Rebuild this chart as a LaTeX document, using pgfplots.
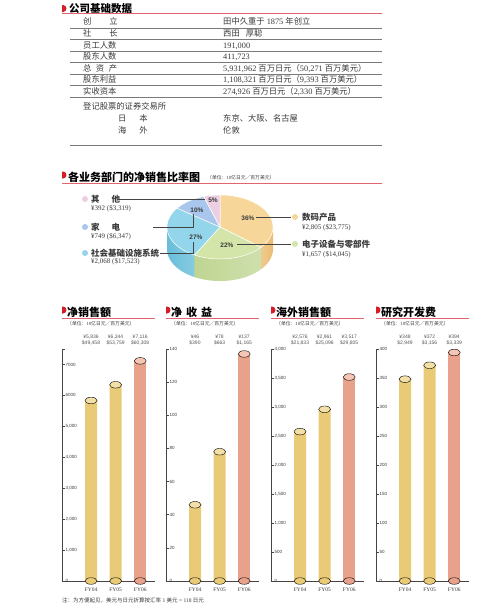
\documentclass[border=0pt]{standalone}
\usepackage{fontspec}
\setmainfont{Liberation Serif}
\newfontfamily\cjk{Noto Sans CJK SC}
\newfontfamily\sans{Liberation Sans}
\usepackage{pgfplots}
\pgfplotsset{compat=1.18}
\definecolor{redm}{HTML}{D51F26}
\definecolor{redl}{HTML}{E0656E}
\definecolor{grayl}{HTML}{7A7A7A}
\definecolor{txt}{HTML}{3A3A3A}
\definecolor{barY}{HTML}{E9CB77}
\definecolor{barYt}{HTML}{F3E0A8}
\definecolor{barS}{HTML}{E8A18B}
\definecolor{barSt}{HTML}{F5C6B4}
\definecolor{axc}{HTML}{4B4343}
\definecolor{orT}{HTML}{F6D699}
\definecolor{orS}{HTML}{EBBD72}
\definecolor{grT}{HTML}{D4E5A9}
\definecolor{grS}{HTML}{BFD592}
\definecolor{blT}{HTML}{93D5EA}
\definecolor{blS}{HTML}{69BEDA}
\definecolor{peT}{HTML}{A9C6EC}
\definecolor{pkT}{HTML}{EDCFE3}
\definecolor{lead}{HTML}{444444}
\newcommand\zh[1]{{\cjk #1}}
\newcommand\fs[1]{\fontsize{#1}{#1}\selectfont}
\newcommand\vals[7]{%
  \node at (#1+29,-337) {#2}; \node at (#1+29,-343) {#3};
  \node at (#1+53.6,-337) {#4}; \node at (#1+53.6,-343) {#5};
  \node at (#1+78.2,-337) {#6}; \node at (#1+78.2,-343) {#7};}
\newcommand\head[2]{%
  \fill[redm] (#1,-306.5) -- (#1+1,-306.5) arc[start angle=90,end angle=-90,radius=3.5] -- (#1,-313.5) -- cycle;
  \node[anchor=base west, inner sep=0] at (#1+5,-316) {\fs{11}\cjk\bfseries #2};
  \draw[redl, line width=1.2pt] (#1,-318.5) -- (#1+93,-318.5);
  \node[anchor=base west, inner sep=0, text=txt] at (#1+5,-325.8) {\fs{4.8}\zh{（单位：}10\zh{亿日元／百万美元）}};}
\pgfplotsset{barpanel/.style={
  scale only axis, width=93pt, height=232pt, anchor=south west,
  xmin=-1.18, xmax=2.6, ymin=0,
  axis x line*=bottom, axis y line*=left,
  axis line style={axc, line width=0.9pt},
  xtick={0,1,2}, xticklabels={FY04,FY05,FY06},
  xticklabel style={font=\fs{5.5}, txt, yshift=-3pt},
  x tick style={draw=none},
  y tick style={axc, line width=0.5pt},
  tick align=inside, major tick length=2.5pt,
  /pgf/number format/assume math mode=true,
  yticklabel style={anchor=west, font=\sans\fs{4.5}, txt, inner sep=0.5pt, xshift=3pt},
  clip=false,
}}
\begin{document}
\begin{tikzpicture}[x=1pt,y=1pt]
\path[use as bounding box, fill=white] (0,0) rectangle (500,-611);
% ---------------- table ----------------
\fill[redm] (62,-5) -- (63,-5) arc[start angle=90,end angle=-90,radius=3.5] -- (62,-12) -- cycle;
\node[anchor=base west, inner sep=0] at (69,-12) {\fs{10.5}\cjk\bfseries 公司基础数据};
\draw[redl, line width=0.9pt] (62,-13.5) -- (382,-13.5);
\foreach \y in {28,39.5,51,62.5,74,85.5,97,145.5} \draw[grayl, line width=1pt] (70,-\y) -- (382,-\y);
\begin{scope}[every node/.style={anchor=base west, inner sep=0, text=txt, font=\fs{8.3}}]
\node at (83,-24) {\zh{创\hspace{18pt}立}};
\node at (83,-36.75) {\zh{社\hspace{18pt}长}};
\node at (83,-48.25) {\zh{员工人数}};
\node at (83,-59.75) {\zh{股东人数}};
\node at (83,-71.25) {\zh{总\hspace{4.5pt}资\hspace{4.5pt}产}};
\node at (83,-82.75) {\zh{股东利益}};
\node at (83,-94.25) {\zh{实收资本}};
\node at (83,-109.5) {\zh{登记股票的证券交易所}};
\node at (118,-121.5) {\zh{日\hspace{13pt}本}};
\node at (118,-133.5) {\zh{海\hspace{13pt}外}};
\node at (223,-24) {\zh{田中久重于} 1875 \zh{年创立}};
\node at (223,-36.75) {\zh{西田\hspace{6pt}厚聪}};
\node at (223,-48.25) {191,000};
\node at (223,-59.75) {411,723};
\node at (223,-71.25) {5,931,962 \zh{百万日元（}50,271 \zh{百万美元）}};
\node at (223,-82.75) {1,108,321 \zh{百万日元（}9,393 \zh{百万美元）}};
\node at (223,-94.25) {274,926 \zh{百万日元（}2,330 \zh{百万美元）}};
\node at (223,-121.5) {\zh{东京、大阪、名古屋}};
\node at (223,-133.5) {\zh{伦敦}};
\end{scope}
% ---------------- pie section ----------------
\fill[redm] (62,-171.5) -- (63,-171.5) arc[start angle=90,end angle=-90,radius=3.5] -- (62,-178.5) -- cycle;
\node[anchor=base west, inner sep=0] at (68,-181) {\fs{11}\cjk\bfseries 各业务部门的净销售比率图};
\node[anchor=base west, inner sep=0, text=txt] at (207,-179.3) {\fs{4.8}\zh{（单位：}10\zh{亿日元／百万美元）}};
\draw[redl, line width=0.9pt] (62,-183.5) -- (382,-183.5);
\begin{axis}[at={(160pt,-287pt)}, anchor=south west, scale only axis, width=120pt, height=100pt,
  xmin=-60, xmax=60, ymin=-60, ymax=40, hide axis, clip=false]
% sides
\addplot[draw=none, left color=orS!80!white, right color=orS, domain=-39.6:0, samples=20] ({53*cos(x)},{32*sin(x)-22}) -- (axis cs:53,0) -- (axis cs:40.84,-20.40) -- cycle;
\addplot[draw=none, left color=grS, right color=grS!75!white, domain=-118.8:-39.6, samples=30] ({53*cos(x)},{32*sin(x)-22}) -- (axis cs:40.84,-20.40) -- (axis cs:-25.53,-28.04) -- cycle;
\addplot[draw=none, left color=blS, right color=blS!80!white, domain=-180:-118.8, samples=30] ({53*cos(x)},{32*sin(x)-22}) -- (axis cs:-25.53,-28.04) -- (axis cs:-53,0) -- cycle;
% tops: 36, 22, 27, 10, 5 percent, clockwise from 90 deg
\addplot[fill=orT, draw=white, line width=0.5pt, domain=-39.6:90, samples=40] ({53*cos(x)},{32*sin(x)}) -- (axis cs:0,0) -- cycle;
\addplot[fill=grT, draw=white, line width=0.5pt, domain=-118.8:-39.6, samples=30] ({53*cos(x)},{32*sin(x)}) -- (axis cs:0,0) -- cycle;
\addplot[fill=blT, draw=white, line width=0.5pt, domain=-216:-118.8, samples=30] ({53*cos(x)},{32*sin(x)}) -- (axis cs:0,0) -- cycle;
\addplot[fill=peT, draw=white, line width=0.5pt, domain=-252:-216, samples=15] ({53*cos(x)},{32*sin(x)}) -- (axis cs:0,0) -- cycle;
\addplot[fill=pkT, draw=white, line width=0.5pt, domain=-270:-252, samples=10] ({53*cos(x)},{32*sin(x)}) -- (axis cs:0,0) -- cycle;
\end{axis}
% leader lines
\draw[lead, line width=0.6pt] (118,-199) -- (205,-199);
\draw[lead, line width=0.6pt] (153,-227) -- (193,-227) -- (193,-214);
\draw[lead, line width=0.6pt] (160,-253) -- (193,-253) -- (193,-242);
\draw[lead, line width=0.6pt] (256,-217) -- (291,-217);
\draw[lead, line width=0.6pt] (237,-244) -- (291,-244);
\begin{scope}[every node/.style={inner sep=0, text=txt, font=\sans\bfseries\fs{6.5}}]
\node at (248,-218) {36\%};
\node at (227,-245) {22\%};
\node at (196,-237) {27\%};
\node at (197,-210) {10\%};
\node at (213,-200) {5\%};
\end{scope}
\fill[pkT] (85,-199) circle (3);
\fill[peT] (85,-227) circle (3);
\fill[blT] (85,-253) circle (3);
\fill[orT] (295,-217) circle (3);
\fill[grT] (295,-244) circle (3);
\begin{scope}[every node/.style={anchor=base west, inner sep=0, text=txt}]
\node at (91,-202) {\fs{8.5}\cjk\bfseries 其\hspace{12pt}他};
\node at (91,-210.5) {\fs{7}¥392 (\$3,319)};
\node at (91,-230) {\fs{8.5}\cjk\bfseries 家\hspace{12pt}电};
\node at (91,-238.5) {\fs{7}¥749 (\$6,347)};
\node at (91,-256) {\fs{8.5}\cjk\bfseries 社会基础设施系统};
\node at (91,-263) {\fs{7}¥2,068 (\$17,523)};
\node at (302,-220) {\fs{8.5}\cjk\bfseries 数码产品};
\node at (302,-229) {\fs{7}¥2,805 (\$23,775)};
\node at (302,-247) {\fs{8.5}\cjk\bfseries 电子设备与零部件};
\node at (302,-256) {\fs{7}¥1,657 (\$14,045)};
\end{scope}
% ---------------- bar panels ----------------
\head{62}{净销售额}
\head{166}{净\hspace{4pt}收\hspace{4pt}益}
\head{271}{海外销售额}
\head{376}{研究开发费}
\begin{scope}[every node/.style={inner sep=0, text=txt!85!white, font=\sans\fs{5}}]
\vals{62}{¥5,836}{\$49,458}{¥6,344}{\$53,759}{¥7,116}{\$60,308}
\vals{166}{¥46}{\$390}{¥78}{\$663}{¥137}{\$1,165}
\vals{271}{¥2,576}{\$21,833}{¥2,961}{\$25,096}{¥3,517}{\$29,805}
\vals{376}{¥348}{\$2,949}{¥372}{\$3,156}{¥394}{\$3,339}
\end{scope}
% panel 1: net sales
\begin{axis}[barpanel, at={(62pt,-581pt)}, ymax=7500,
  ytick={0,1000,2000,3000,4000,5000,6000,7000,7500},
  yticklabels={0,{1,000},{2,000},{3,000},{4,000},{5,000},6000,7000,{}}]
\addplot[only marks, mark=*, mark size=6pt, mark options={yscale=0.55, fill=barY, draw=none}] coordinates {(0,0) (1,0)};
\addplot[only marks, mark=*, mark size=6pt, mark options={yscale=0.55, fill=barS, draw=none}] coordinates {(2,0)};
\addplot[ybar, bar width=12pt, bar shift=0pt, fill=barY, draw=none] coordinates {(0,5836) (1,6344)};
\addplot[ybar, bar width=12pt, bar shift=0pt, fill=barS, draw=none] coordinates {(2,7116)};
\addplot[only marks, mark=*, mark size=6pt, mark options={yscale=0.55, fill=barYt, draw=none}] coordinates {(0,5836) (1,6344)};
\addplot[only marks, mark=*, mark size=6pt, mark options={yscale=0.55, fill=barSt, draw=none}] coordinates {(2,7116)};
\end{axis}
% panel 2: net income
\begin{axis}[barpanel, at={(166pt,-581pt)}, ymax=140, ytick={0,20,...,140}]
\addplot[only marks, mark=*, mark size=6pt, mark options={yscale=0.55, fill=barY, draw=none}] coordinates {(0,0) (1,0)};
\addplot[only marks, mark=*, mark size=6pt, mark options={yscale=0.55, fill=barS, draw=none}] coordinates {(2,0)};
\addplot[ybar, bar width=12pt, bar shift=0pt, fill=barY, draw=none] coordinates {(0,46) (1,78)};
\addplot[ybar, bar width=12pt, bar shift=0pt, fill=barS, draw=none] coordinates {(2,137)};
\addplot[only marks, mark=*, mark size=6pt, mark options={yscale=0.55, fill=barYt, draw=none}] coordinates {(0,46) (1,78)};
\addplot[only marks, mark=*, mark size=6pt, mark options={yscale=0.55, fill=barSt, draw=none}] coordinates {(2,137)};
\end{axis}
% panel 3: overseas sales
\begin{axis}[barpanel, at={(271pt,-581pt)}, ymax=4000,
  ytick={0,500,...,4000},
  yticklabels={0,500,{1,000},{1,500},{2,000},{2,500},{3,000},{3,500},{4,000}}]
\addplot[only marks, mark=*, mark size=6pt, mark options={yscale=0.55, fill=barY, draw=none}] coordinates {(0,0) (1,0)};
\addplot[only marks, mark=*, mark size=6pt, mark options={yscale=0.55, fill=barS, draw=none}] coordinates {(2,0)};
\addplot[ybar, bar width=12pt, bar shift=0pt, fill=barY, draw=none] coordinates {(0,2576) (1,2961)};
\addplot[ybar, bar width=12pt, bar shift=0pt, fill=barS, draw=none] coordinates {(2,3517)};
\addplot[only marks, mark=*, mark size=6pt, mark options={yscale=0.55, fill=barYt, draw=none}] coordinates {(0,2576) (1,2961)};
\addplot[only marks, mark=*, mark size=6pt, mark options={yscale=0.55, fill=barSt, draw=none}] coordinates {(2,3517)};
\end{axis}
% panel 4: R&D
\begin{axis}[barpanel, at={(376pt,-581pt)}, ymax=400, ytick={0,50,...,400}]
\addplot[only marks, mark=*, mark size=6pt, mark options={yscale=0.55, fill=barY, draw=none}] coordinates {(0,0) (1,0)};
\addplot[only marks, mark=*, mark size=6pt, mark options={yscale=0.55, fill=barS, draw=none}] coordinates {(2,0)};
\addplot[ybar, bar width=12pt, bar shift=0pt, fill=barY, draw=none] coordinates {(0,348) (1,372)};
\addplot[ybar, bar width=12pt, bar shift=0pt, fill=barS, draw=none] coordinates {(2,394)};
\addplot[only marks, mark=*, mark size=6pt, mark options={yscale=0.55, fill=barYt, draw=none}] coordinates {(0,348) (1,372)};
\addplot[only marks, mark=*, mark size=6pt, mark options={yscale=0.55, fill=barSt, draw=none}] coordinates {(2,394)};
\end{axis}
% footnote
\node[anchor=base west, inner sep=0, text=txt] at (62,-602) {\fs{5.5}\zh{注：为方便起见，美元与日元折算按汇率} 1 \zh{美元} = 118 \zh{日元}};
\end{tikzpicture}
\end{document}
